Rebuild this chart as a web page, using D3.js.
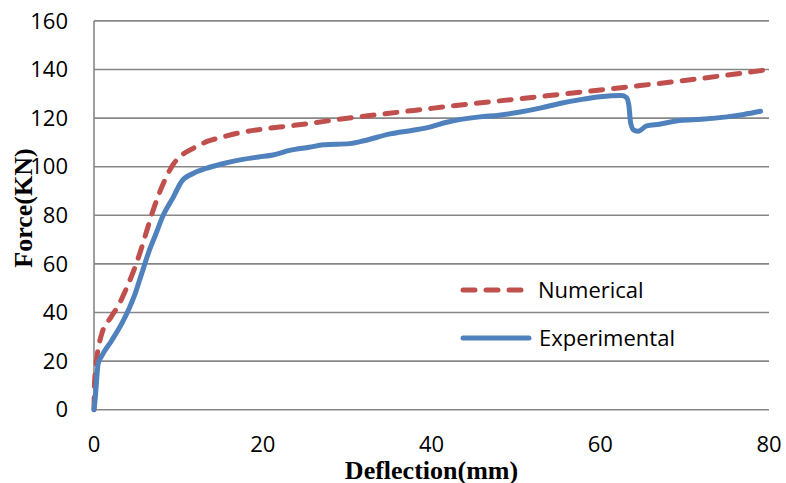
<!DOCTYPE html>
<html><head><meta charset="utf-8">
<script src="https://cdn.jsdelivr.net/npm/d3@7"></script>
<style>body{margin:0;background:#fff}svg{display:block}</style>
</head><body>
<script>
const numericalD = [0,0.05,0.3,0.9,2,2.9,4.1,5.3,6.2,7,8.2,9.4,10.5,12,13.5,15,17.3,20,23.2,26,29,32,35,40,45,50,55,60,65,70,75,80];
const numericalF = [0,10,20,31,38,43,52,63,73,82,93,101,105,108,110.5,112,114,115.5,116.8,118,119.5,120.8,122,124,126,127.8,129.7,131.6,133.5,135.5,137.7,140];
const experimentalD = [0,0.1,0.5,0.9,2.1,3.3,4.2,4.9,5.65,6.6,7.3,8.2,9.4,10.4,11.8,13.3,15,17.3,19.5,21.2,23.2,25.5,27.2,30.3,32,35.1,37.8,40,41.8,45.7,48,50.5,53,55.2,58,60,62.5,63.1,63.4,63.6,64,64.5,65.5,67,69.4,72,75,77,79];
const experimentalF = [0,3,19,22,28.5,35.5,42,48,56,66,72,80,87.5,94,97.3,99.3,101,102.8,104,104.8,106.7,108,109,109.5,110.7,113.5,115,116.5,118.3,120.5,121.2,122.5,124.2,126,127.8,128.8,129.3,128.5,125,118,115,114.6,116.8,117.5,119,119.5,120.5,121.5,122.8];
const xTicks = [0,20,40,60,80];
const yTicks = [0,20,40,60,80,100,120,140,160];
const seriesNames = ["Numerical","Experimental"];
const xTitle = "Deflection(mm)";
const yTitle = "Force(KN)";

const W = 786, H = 483;
const svg = d3.select("body").append("svg").attr("width", W).attr("height", H);
const x = d3.scaleLinear().domain([0,80]).range([94,769]);
const y = d3.scaleLinear().domain([0,160]).range([409.7,20.9]);
const grid = "#878787";

// gridlines
svg.append("g").selectAll("line").data(yTicks).join("line")
  .attr("x1", x(0)).attr("x2", x(80))
  .attr("y1", d => y(d)).attr("y2", d => y(d))
  .attr("stroke", grid).attr("stroke-width", 1.6);
// y axis line
svg.append("line").attr("x1", x(0)).attr("x2", x(0)).attr("y1", y(160)).attr("y2", y(0))
  .attr("stroke", grid).attr("stroke-width", 1.6);

const tickFont = "'Open Sans', sans-serif";
svg.append("g").selectAll("text").data(yTicks).join("text")
  .attr("x", 68).attr("y", d => y(d)).attr("dy", "0.35em")
  .attr("text-anchor", "end").attr("font-family", tickFont).attr("font-size", 22)
  .attr("fill", "#000").text(d => d);
svg.append("g").selectAll("text").data(xTicks).join("text")
  .attr("x", d => x(d)).attr("y", 451.5)
  .attr("text-anchor", "middle").attr("font-family", tickFont).attr("font-size", 22)
  .attr("fill", "#000").text(d => d);

// titles
const titleFont = "'Liberation Serif', 'Times New Roman', serif";
svg.append("text").attr("x", 431.5).attr("y", 478.5).attr("text-anchor", "middle")
  .attr("font-family", titleFont).attr("font-weight", "bold").attr("font-size", 26)
  .text(xTitle);
svg.append("text").attr("transform", "translate(32,208) rotate(-90)").attr("text-anchor", "middle")
  .attr("font-family", titleFont).attr("font-weight", "bold").attr("font-size", 26)
  .text(yTitle);

// lines
const numData = numericalD.map((d,i) => [d, numericalF[i]]);
const expData = experimentalD.map((d,i) => [d, experimentalF[i]]);
const line = d3.line().x(d => x(d[0])).y(d => y(d[1])).curve(d3.curveMonotoneX);
const red = "#C0504D", blue = "#4F81BD";
svg.append("path").datum(numData).attr("d", line).attr("fill", "none")
  .attr("stroke", red).attr("stroke-width", 5).attr("stroke-dasharray", "12,11")
  .attr("stroke-linecap", "round");
svg.append("path").datum(expData).attr("d", line).attr("fill", "none")
  .attr("stroke", blue).attr("stroke-width", 5).attr("stroke-linejoin", "round")
  .attr("stroke-linecap", "round");

// legend
const lg = svg.append("g");
lg.append("line").attr("x1", 463).attr("x2", 522).attr("y1", 290).attr("y2", 290)
  .attr("stroke", red).attr("stroke-width", 5).attr("stroke-dasharray", "12,11").attr("stroke-linecap", "round");
lg.append("line").attr("x1", 463).attr("x2", 529).attr("y1", 338).attr("y2", 338)
  .attr("stroke", blue).attr("stroke-width", 5).attr("stroke-linecap", "round");
lg.append("text").attr("x", 538).attr("y", 290).attr("dy", "0.35em")
  .attr("font-family", tickFont).attr("font-size", 22).text(seriesNames[0]);
lg.append("text").attr("x", 539).attr("y", 338).attr("dy", "0.35em")
  .attr("font-family", tickFont).attr("font-size", 22).text(seriesNames[1]);
</script>
</body></html>
